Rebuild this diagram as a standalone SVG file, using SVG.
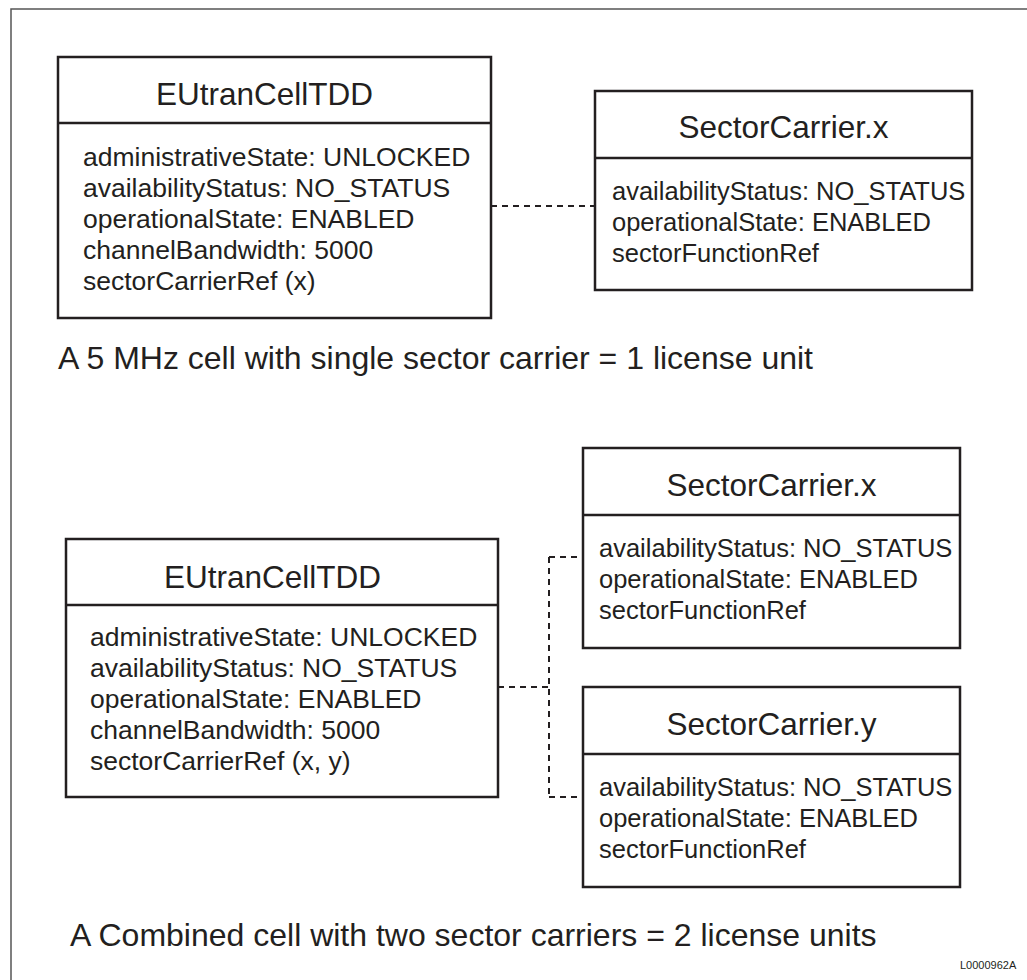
<svg xmlns="http://www.w3.org/2000/svg" width="1027" height="980" viewBox="0 0 1027 980">
<style>
.box{fill:#fff;stroke:#231f20;stroke-width:2.5}
.div{stroke:#231f20;stroke-width:2.5}
.title{font-family:"Liberation Sans",Arial,sans-serif;font-size:31.5px;fill:#231f20}
.body{font-family:"Liberation Sans",Arial,sans-serif;font-size:26.5px;fill:#231f20}
.sbody{font-family:"Liberation Sans",Arial,sans-serif;font-size:25.5px;fill:#231f20}
.cap{font-family:"Liberation Sans",Arial,sans-serif;font-size:32px;fill:#231f20}
.code{font-family:"Liberation Sans",Arial,sans-serif;font-size:11px;fill:#231f20}
.conn{fill:none;stroke:#231f20;stroke-width:2;stroke-dasharray:6 5}
</style>
<rect width="1027" height="980" fill="#fff"/>
<rect x="11" y="9" width="1030" height="990" fill="none" stroke="#555" stroke-width="1.5"/>

<g id="connectors">
<path class="conn" d="M491 206 H595"/>
<path class="conn" d="M498 687 H549 M549 557 V797 M549 557 H583 M549 797 H583"/>
</g>

<g id="cell1">
<rect class="box" x="58" y="57" width="433" height="261"/>
<line class="div" x1="58" y1="123" x2="491" y2="123"/>
<text class="title" x="156" y="105">EUtranCellTDD</text>
<text class="body" x="83" y="166">administrativeState: UNLOCKED</text>
<text class="body" x="83" y="197">availabilityStatus: NO_STATUS</text>
<text class="body" x="83" y="228">operationalState: ENABLED</text>
<text class="body" x="83" y="259">channelBandwidth: 5000</text>
<text class="body" x="83" y="290">sectorCarrierRef (x)</text>
</g>

<g id="sc1">
<rect class="box" x="595" y="91" width="377" height="199"/>
<line class="div" x1="595" y1="158" x2="972" y2="158"/>
<text class="title" x="783.5" y="138" text-anchor="middle">SectorCarrier.x</text>
<text class="sbody" x="612" y="200">availabilityStatus: NO_STATUS</text>
<text class="sbody" x="612" y="231">operationalState: ENABLED</text>
<text class="sbody" x="612" y="262">sectorFunctionRef</text>
</g>

<text class="cap" x="58" y="369">A 5 MHz cell with single sector carrier = 1 license unit</text>

<g id="cell2">
<rect class="box" x="66" y="539" width="432" height="258"/>
<line class="div" x1="66" y1="605" x2="498" y2="605"/>
<text class="title" x="164" y="588">EUtranCellTDD</text>
<text class="body" x="90" y="646">administrativeState: UNLOCKED</text>
<text class="body" x="90" y="677">availabilityStatus: NO_STATUS</text>
<text class="body" x="90" y="708">operationalState: ENABLED</text>
<text class="body" x="90" y="739">channelBandwidth: 5000</text>
<text class="body" x="90" y="770">sectorCarrierRef (x, y)</text>
</g>

<g id="sc2x">
<rect class="box" x="583" y="448" width="377" height="200"/>
<line class="div" x1="583" y1="515" x2="960" y2="515"/>
<text class="title" x="771.5" y="496" text-anchor="middle">SectorCarrier.x</text>
<text class="sbody" x="599" y="557">availabilityStatus: NO_STATUS</text>
<text class="sbody" x="599" y="588">operationalState: ENABLED</text>
<text class="sbody" x="599" y="619">sectorFunctionRef</text>
</g>

<g id="sc2y">
<rect class="box" x="583" y="687" width="377" height="200"/>
<line class="div" x1="583" y1="754" x2="960" y2="754"/>
<text class="title" x="771.5" y="735" text-anchor="middle">SectorCarrier.y</text>
<text class="sbody" x="599" y="796">availabilityStatus: NO_STATUS</text>
<text class="sbody" x="599" y="827">operationalState: ENABLED</text>
<text class="sbody" x="599" y="858">sectorFunctionRef</text>
</g>

<text class="cap" x="70" y="946">A Combined cell with two sector carriers = 2 license units</text>
<text class="code" x="960" y="969">L0000962A</text>
</svg>
